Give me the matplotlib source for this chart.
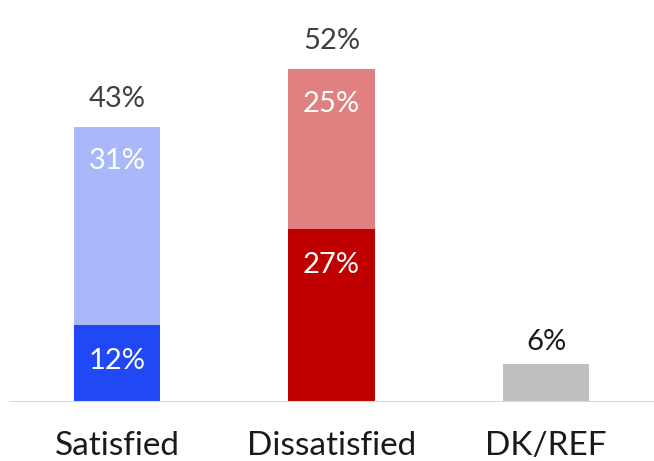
import numpy as np
import matplotlib.pyplot as plt

plt.rcParams['font.family'] = ['Lato', 'DejaVu Sans']

categories = ['Satisfied', 'Dissatisfied', 'DK/REF']
strong = [12, 27, 6]
somewhat = [31, 25, 0]
totals = [43, 52, 6]

strong_colors = ['#2049f5', '#c00000', '#bfbfbf']
light_colors = ['#a8b8f8', '#e08080', '#bfbfbf']

fig = plt.figure(figsize=(6.54, 4.61), dpi=100)
ax = fig.add_axes([0, 59 / 461, 1, 402 / 461])

x = np.arange(len(categories))
w = 0.405
ax.bar(x, strong, width=w, color=strong_colors)
ax.bar(x, somewhat, width=w, bottom=strong, color=light_colors)

ax.set_xlim(-117 / 214.5, 2 + 108 / 214.5)
ax.set_ylim(0, 402 / 6.4)
ax.axhline(0, xmin=10 / 654, xmax=1, color='#d9d9d9', lw=1.5)

for i in range(len(categories)):
    if somewhat[i] > 0:
        ax.text(x[i], strong[i] - 5.6, f'{strong[i]}%', ha='center', va='center',
                color='white', fontsize=21)
        ax.text(x[i], strong[i] + somewhat[i] - 5.4, f'{somewhat[i]}%', ha='center',
                va='center', color='white', fontsize=21)
        ax.text(x[i], totals[i] + 4.4, f'{totals[i]}%', ha='center', va='center',
                color='#404040', fontsize=21)
    else:
        ax.text(x[i], totals[i] + 3.4, f'{totals[i]}%', ha='center', va='center',
                color='#1a1a1a', fontsize=21)
    ax.text(x[i], -6.8, categories[i], ha='center', va='center', fontsize=24,
            color='#1a1a1a')

ax.axis('off')
fig.savefig('out.png', dpi=100)
